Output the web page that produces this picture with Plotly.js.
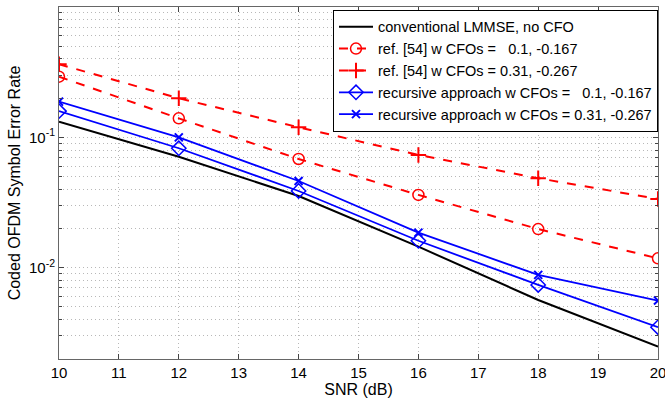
<!DOCTYPE html>
<html>
<head>
<meta charset="utf-8">
<script src="https://cdn.plot.ly/plotly-3.0.1.min.js"></script>
<style>html,body{margin:0;padding:0;background:#fff;}#chart{width:665px;height:402px;}</style>
</head>
<body>
<div id="chart"></div>
<script>
const snr = [10, 12, 14, 16, 18, 20];
const lmmseNoCfo = [0.132, 0.0711, 0.0355, 0.0145, 0.00566, 0.00248];
const ref54Cfo1 = [0.292, 0.140, 0.0683, 0.0362, 0.0198, 0.0118];
const ref54Cfo2 = [0.364, 0.1995, 0.1195, 0.0733, 0.0486, 0.0337];
const recursiveCfo1 = [0.159, 0.0825, 0.0388, 0.0161, 0.00738, 0.0035];
const recursiveCfo2 = [0.188, 0.100, 0.0463, 0.0186, 0.00881, 0.0056];
const names = [
  'conventional LMMSE, no CFO',
  'ref. [54] w CFOs = \u00a0\u00a00.1, -0.167',
  'ref. [54] w CFOs = 0.31, -0.267',
  'recursive approach w CFOs = \u00a0\u00a00.1, -0.167',
  'recursive approach w CFOs = 0.31, -0.267'
];
const xTicks = [10, 11, 12, 13, 14, 15, 16, 17, 18, 19, 20];
const yTickVals = [0.01, 0.1, 1];
const yTickText = ['10<sup>-2</sup>', '10<sup>-1</sup>', '10<sup>0</sup>'];
const yMinorVals = [0.003, 0.004, 0.005, 0.006, 0.007, 0.008, 0.009,
                    0.02, 0.03, 0.04, 0.05, 0.06, 0.07, 0.08, 0.09,
                    0.2, 0.3, 0.4, 0.5, 0.6, 0.7, 0.8, 0.9];

const traces = [
  {x: snr, y: lmmseNoCfo, name: names[0], mode: 'lines',
   line: {color: '#000000', width: 2}},
  {x: snr, y: ref54Cfo1, name: names[1], mode: 'lines+markers',
   line: {color: '#ff0000', width: 2, dash: 'dash'},
   marker: {symbol: 'circle-open', size: 11, color: '#ff0000', line: {width: 1.5}}},
  {x: snr, y: ref54Cfo2, name: names[2], mode: 'lines+markers',
   line: {color: '#ff0000', width: 2, dash: 'dash'},
   marker: {symbol: 'cross-thin-open', size: 11, color: '#ff0000', line: {width: 2}}},
  {x: snr, y: recursiveCfo1, name: names[3], mode: 'lines+markers',
   line: {color: '#0000ff', width: 1.8},
   marker: {symbol: 'diamond-open', size: 11, color: '#0000ff', line: {width: 1.5}}},
  {x: snr, y: recursiveCfo2, name: names[4], mode: 'lines+markers',
   line: {color: '#0000ff', width: 1.8},
   marker: {symbol: 'x-thin-open', size: 8, color: '#0000ff', line: {width: 2}}}
];

const gridDash = '1px,3px';
const layout = {
  width: 665, height: 402,
  margin: {l: 59, r: 7, t: 7, b: 43},
  paper_bgcolor: '#ffffff', plot_bgcolor: '#ffffff',
  font: {family: 'Liberation Sans, Arial, sans-serif', size: 15, color: '#000'},
  showlegend: true,
  legend: {x: 1, xanchor: 'right', y: 0.992, yanchor: 'top',
           bgcolor: '#ffffff', bordercolor: '#000000', borderwidth: 1,
           font: {size: 14.5}, tracegroupgap: 0, itemwidth: 34},
  xaxis: {
    range: [10, 20], tickvals: xTicks, ticktext: xTicks.map(String),
    ticklabeloverflow: 'allow', tickfont: {size: 15},
    ticks: 'inside', ticklen: 5, tickcolor: '#444',
    showline: true, linecolor: '#666', linewidth: 1, mirror: 'ticks',
    showgrid: true, gridcolor: '#b8b8b8', griddash: gridDash, gridwidth: 1,
    zeroline: false,
    title: {text: 'SNR (dB)', standoff: 2, font: {size: 16}}
  },
  yaxis: {
    type: 'log', range: [-2.7, 0],
    tickvals: yTickVals, ticktext: yTickText, tickfont: {size: 15},
    ticks: 'inside', ticklen: 5, tickcolor: '#444',
    showline: true, linecolor: '#666', linewidth: 1, mirror: 'ticks',
    showgrid: true, gridcolor: '#b8b8b8', griddash: gridDash, gridwidth: 1,
    minor: {showgrid: true, gridcolor: '#b8b8b8', griddash: gridDash, gridwidth: 1,
            ticks: 'inside', ticklen: 3, tickcolor: '#444',
            tickvals: yMinorVals},
    zeroline: false,
    title: {text: 'Coded OFDM Symbol Error Rate', standoff: 4, font: {size: 16}}
  }
};

Plotly.newPlot('chart', traces, layout, {displayModeBar: false, staticPlot: true});
</script>
</body>
</html>
